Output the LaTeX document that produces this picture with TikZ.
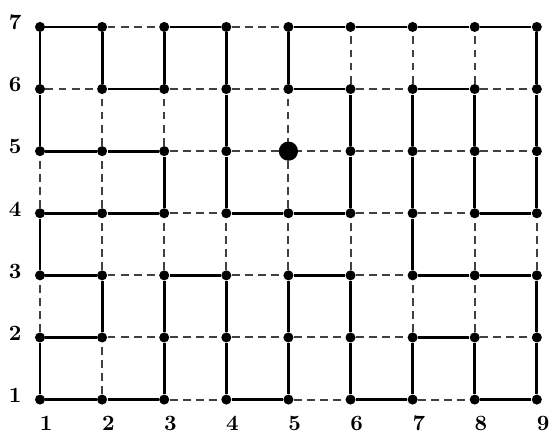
\documentclass[tikz,border=0pt]{standalone}
\begin{document}
\begin{tikzpicture}[
    dot/.style={circle,fill,inner sep=0pt,minimum size=4.6pt},
    bigdot/.style={circle,fill,inner sep=0pt,minimum size=8.8pt},
    gridline/.style={black!75,line width=0.9pt,dash pattern=on 3.6pt off 2.4pt},
    tour/.style={line width=1.3pt,line join=round},
    lab/.style={font=\bfseries,inner sep=0pt}]
  \useasboundingbox (0.356,0.47) rectangle (9.196,7.434);
  \foreach \x in {1,...,9}
    \foreach \y in {1,...,7}
      \node[dot] (v\x\y) at (\x,\y) {};
  \foreach \x [count=\nx from 2] in {1,...,8}
    \foreach \y in {1,...,7}
      \draw[gridline] (v\x\y) -- (v\nx\y);
  \foreach \y [count=\ny from 2] in {1,...,6}
    \foreach \x in {1,...,9}
      \draw[gridline] (v\x\y) -- (v\x\ny);
  \draw[tour] (v17) -- (v27) -- (v26) -- (v36) -- (v37) -- (v47) -- (v46)
    -- (v45) -- (v44) -- (v54) -- (v64) -- (v65) -- (v66) -- (v56) -- (v57)
    -- (v67) -- (v77) -- (v87) -- (v97) -- (v96) -- (v95) -- (v94) -- (v84)
    -- (v85) -- (v86) -- (v76) -- (v75) -- (v74) -- (v73) -- (v83) -- (v93)
    -- (v92) -- (v91) -- (v81) -- (v82) -- (v72) -- (v71) -- (v61) -- (v62)
    -- (v63) -- (v53) -- (v52) -- (v51) -- (v41) -- (v42) -- (v43) -- (v33)
    -- (v32) -- (v31) -- (v21) -- (v11) -- (v12) -- (v22) -- (v23) -- (v13)
    -- (v14) -- (v24) -- (v34) -- (v35) -- (v25) -- (v15) -- (v16) -- (v17);
  \node[bigdot] (start) at (v55) {};
  \foreach \x in {1,...,9}
    \node[lab] (col\x) at (\x+0.1,0.62) {\x};
  \foreach \y in {1,...,7}
    \node[lab] (row\y) at (0.6,\y+0.07) {\y};
\end{tikzpicture}
\end{document}
